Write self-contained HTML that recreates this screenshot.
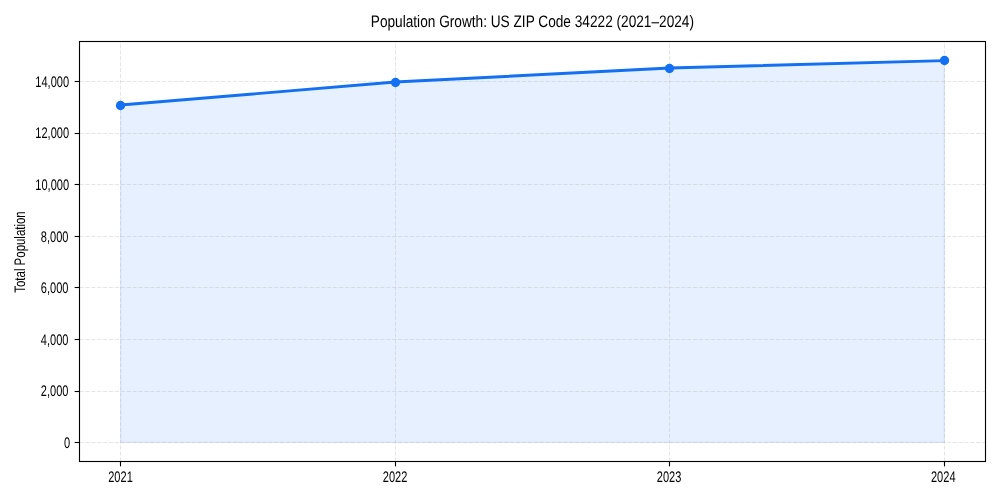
<!DOCTYPE html>
<html lang="en">
<head>
<meta charset="utf-8">
<title>Population Growth: US ZIP Code 34222 (2021–2024)</title>
<style>
html,body{margin:0;padding:0;background:#fff;}
body{width:1000px;height:500px;overflow:hidden;}
svg{display:block;will-change:transform;}
text{text-rendering:geometricPrecision;font-family:"Liberation Sans",sans-serif;fill:#000000;}
</style>
</head>
<body>
<svg width="1000" height="500" viewBox="0 0 1000 500">
<rect x="0" y="0" width="1000" height="500" fill="#ffffff"/>
<polygon points="120.68,105.05 395.23,82.05 669.77,68.05 944.32,60.59 944.32,442.41 120.68,442.41" fill="#0d6efd" fill-opacity="0.10" stroke="#0d6efd" stroke-opacity="0.1" stroke-width="1.39" stroke-linejoin="miter"/>
<g stroke="#b0b0b0" stroke-opacity="0.35" stroke-width="0.95" stroke-dasharray="4.1 1.8" fill="none">
<line x1="120.5" y1="461.5" x2="120.5" y2="41.5"/>
<line x1="395.5" y1="461.5" x2="395.5" y2="41.5"/>
<line x1="669.5" y1="461.5" x2="669.5" y2="41.5"/>
<line x1="944.5" y1="461.5" x2="944.5" y2="41.5"/>
<line x1="79.5" y1="442.5" x2="985.5" y2="442.5"/>
<line x1="79.5" y1="391.5" x2="985.5" y2="391.5"/>
<line x1="79.5" y1="339.5" x2="985.5" y2="339.5"/>
<line x1="79.5" y1="287.5" x2="985.5" y2="287.5"/>
<line x1="79.5" y1="236.5" x2="985.5" y2="236.5"/>
<line x1="79.5" y1="184.5" x2="985.5" y2="184.5"/>
<line x1="79.5" y1="133.5" x2="985.5" y2="133.5"/>
<line x1="79.5" y1="81.5" x2="985.5" y2="81.5"/>
</g>
<polyline points="120.68,105.05 395.23,82.05 669.77,68.05 944.32,60.59" fill="none" stroke="#1470f2" stroke-width="2.9" stroke-linejoin="round" stroke-linecap="butt"/>
<circle cx="120.50" cy="105.50" r="4.65" fill="#1470f2"/>
<circle cx="395.50" cy="82.50" r="4.65" fill="#1470f2"/>
<circle cx="669.50" cy="68.50" r="4.65" fill="#1470f2"/>
<circle cx="944.50" cy="60.50" r="4.65" fill="#1470f2"/>
<rect x="79.5" y="41.5" width="906.0" height="420.0" fill="none" stroke="#000" stroke-width="1.11"/>
<g stroke="#000" stroke-width="1.11">
<line x1="120.5" y1="461.5" x2="120.5" y2="466.36"/>
<line x1="395.5" y1="461.5" x2="395.5" y2="466.36"/>
<line x1="669.5" y1="461.5" x2="669.5" y2="466.36"/>
<line x1="944.5" y1="461.5" x2="944.5" y2="466.36"/>
<line x1="79.5" y1="442.5" x2="74.64" y2="442.5"/>
<line x1="79.5" y1="391.5" x2="74.64" y2="391.5"/>
<line x1="79.5" y1="339.5" x2="74.64" y2="339.5"/>
<line x1="79.5" y1="287.5" x2="74.64" y2="287.5"/>
<line x1="79.5" y1="236.5" x2="74.64" y2="236.5"/>
<line x1="79.5" y1="184.5" x2="74.64" y2="184.5"/>
<line x1="79.5" y1="133.5" x2="74.64" y2="133.5"/>
<line x1="79.5" y1="81.5" x2="74.64" y2="81.5"/>
</g>
<text transform="translate(120.50,482.20) scale(0.795,1.105)" font-size="13.889" text-anchor="middle">2021</text>
<text transform="translate(395.10,482.20) scale(0.795,1.105)" font-size="13.889" text-anchor="middle">2022</text>
<text transform="translate(669.10,482.20) scale(0.795,1.105)" font-size="13.889" text-anchor="middle">2023</text>
<text transform="translate(943.25,482.20) scale(0.795,1.105)" font-size="13.889" text-anchor="middle">2024</text>
<text transform="translate(70.20,448.40) scale(0.795,1.105)" font-size="13.889" text-anchor="end">0</text>
<text transform="translate(68.45,396.40) scale(0.795,1.105)" font-size="13.889" text-anchor="end">2,000</text>
<text transform="translate(68.45,345.40) scale(0.795,1.105)" font-size="13.889" text-anchor="end">4,000</text>
<text transform="translate(68.45,293.40) scale(0.795,1.105)" font-size="13.889" text-anchor="end">6,000</text>
<text transform="translate(68.45,242.40) scale(0.795,1.105)" font-size="13.889" text-anchor="end">8,000</text>
<text transform="translate(69.05,190.40) scale(0.795,1.105)" font-size="13.889" text-anchor="end">10,000</text>
<text transform="translate(69.05,138.40) scale(0.795,1.105)" font-size="13.889" text-anchor="end">12,000</text>
<text transform="translate(69.05,87.40) scale(0.795,1.105)" font-size="13.889" text-anchor="end">14,000</text>
<text transform="translate(24.90,252.00) rotate(-90) scale(0.825,1.100)" font-size="13.889" text-anchor="middle">Total Population</text>
<text transform="translate(532.40,27.40) scale(0.82,1)" font-size="16.667" text-anchor="middle">Population Growth: US ZIP Code 34222 (2021–2024)</text>
</svg>
</body>
</html>
